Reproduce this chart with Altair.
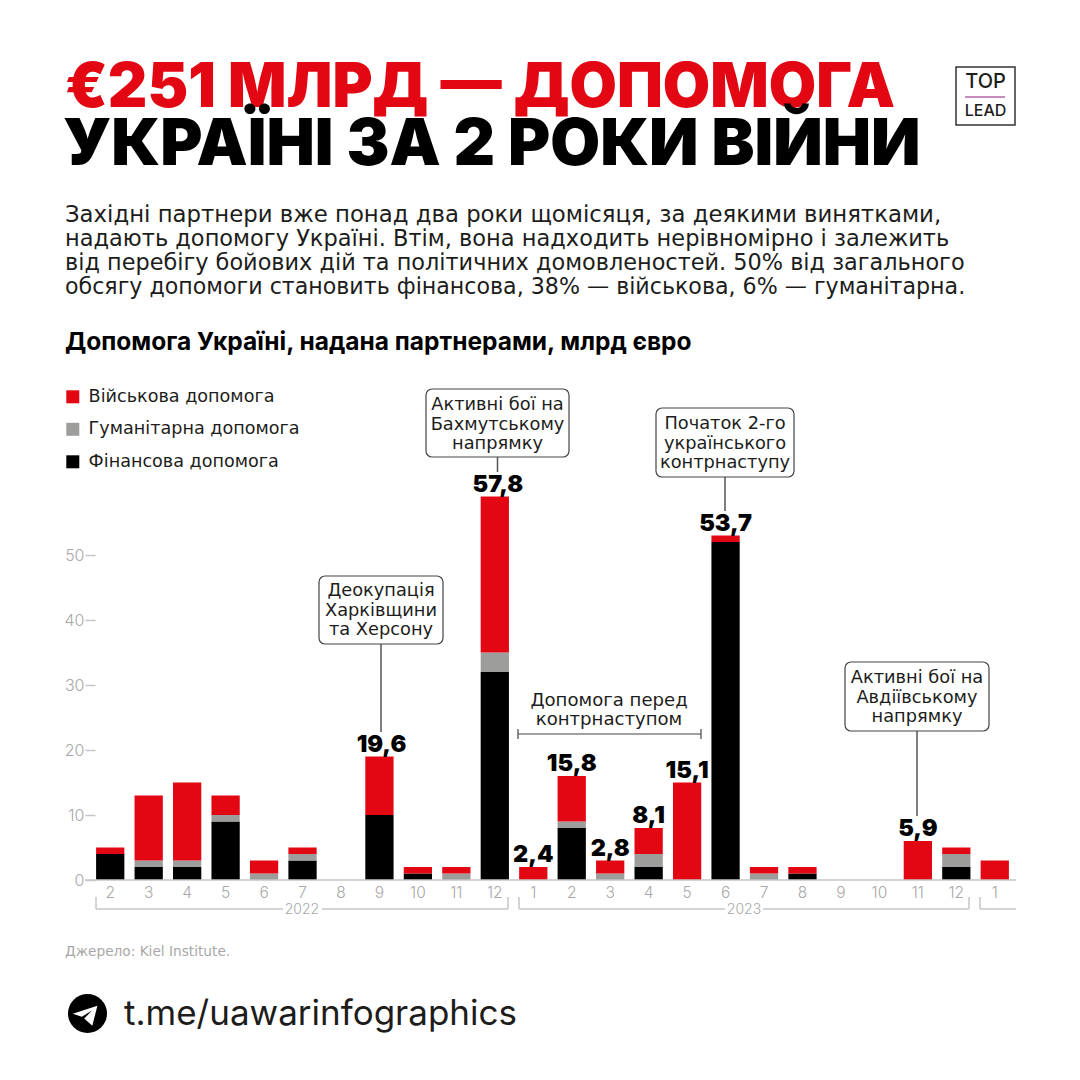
import altair as alt
import pandas as pd

MONTHS = ["2022-2","2022-3","2022-4","2022-5","2022-6","2022-7","2022-8","2022-9","2022-10","2022-11","2022-12",
          "2023-1","2023-2","2023-3","2023-4","2023-5","2023-6","2023-7","2023-8","2023-9","2023-10","2023-11","2023-12","2024-1"]
FIN = [4,2,2,9,0,3,0,10,1,0,32, 0,8,0,2,0,52,0,1,0,0,0,2,0]
HUM = [0,1,1,1,1,1,0,0,0,1,3, 0,1,1,2,0,0,1,0,0,0,0,2,0]
MIL = [1,10,12,3,2,1,0,9,1,1,24, 2,7,2,4,15,1,1,1,0,0,6,1,3]
SERIES = ["Військова допомога","Гуманітарна допомога","Фінансова допомога"]
COLORS = ["#E30613","#9D9D9C","#000000"]

LABEL_MONTHS = ["2022-9","2022-12","2023-1","2023-2","2023-3","2023-4","2023-5","2023-6","2023-11"]
LABEL_TEXTS = ["19,6","57,8","2,4","15,8","2,8","8,1","15,1","53,7","5,9"]

TITLE1 = "€251 МЛРД — ДОПОМОГА"
TITLE2 = "УКРАЇНІ ЗА 2 РОКИ ВІЙНИ"
BODY = ["Західні партнери вже понад два роки щомісяця, за деякими винятками,",
        "надають допомогу Україні. Втім, вона надходить нерівномірно і залежить",
        "від перебігу бойових дій та політичних домовленостей. 50% від загального",
        "обсягу допомоги становить фінансова, 38% — військова, 6% — гуманітарна."]
SUBTITLE = "Допомога Україні, надана партнерами, млрд євро"
SOURCE = "Джерело: Kiel Institute."
LINK = "t.me/uawarinfographics"

OX, OY = 91, 490
FONT = "Inter"
WIDE = "DejaVu Sans"
GREY = "#a8a8a8"
one = pd.DataFrame({"k":[0]})

def px(v): return alt.value(v-OX)
def py(v): return alt.value(v-OY)

def txt(s, x, y, size, weight=400, color="#1d1d1b", align="left", font=FONT):
    return alt.Chart(one).mark_text(text=s, fontSize=size, fontWeight=weight, color=color, align=align,
                                    baseline="alphabetic", font=font).encode(x=px(x), y=py(y))

def line(x1, y1, x2, y2, color="#c6c6c6", w=1.5):
    return alt.Chart(one).mark_rule(color=color, strokeWidth=w).encode(x=px(x1), x2=px(x2), y=py(y1), y2=py(y2))

def box(x1, y1, x2, y2):
    return alt.Chart(one).mark_rect(fill="white", stroke="#444444", strokeWidth=1.2, cornerRadius=6).encode(
        x=px(x1), x2=px(x2), y=py(y1), y2=py(y2))

rows = []
for i, m in enumerate(MONTHS):
    for o, (name, vals) in enumerate(zip([SERIES[2], SERIES[1], SERIES[0]], [FIN, HUM, MIL])):
        if vals[i]:
            rows.append({"month": m, "series": name, "value": vals[i], "ord": o})
df = pd.DataFrame(rows)
totals = [f+h+t for f, h, t in zip(FIN, HUM, MIL)]
lab = pd.DataFrame({"month": LABEL_MONTHS, "text": LABEL_TEXTS,
                    "total": [totals[MONTHS.index(m)] for m in LABEL_MONTHS]})

xscale = alt.Scale(domain=MONTHS, paddingInner=0.265, paddingOuter=0.1325)
yscale = alt.Scale(domain=[0, 60], nice=False)

bars = alt.Chart(df).mark_bar().encode(
    x=alt.X("month:N", scale=xscale, title=None, axis=alt.Axis(
        domain=False, ticks=False, labelAngle=0, labelExpr="split(datum.value,'-')[1]",
        labelColor=GREY, labelFont=FONT, labelFontSize=15.5, labelFontWeight=300, labelPadding=5)),
    y=alt.Y("value:Q", stack="zero", scale=yscale, title=None, axis=alt.Axis(
        values=[0,10,20,30,40,50], grid=False, domain=False, offset=-4, tickSize=10, tickColor="#c6c6c6",
        tickWidth=1.5, labelColor=GREY, labelFont=FONT, labelFontSize=16, labelFontWeight=300, labelPadding=1)),
    color=alt.Color("series:N", scale=alt.Scale(domain=SERIES, range=COLORS), legend=alt.Legend(
        title=None, orient="none", legendX=-27, legendY=-102, symbolType="square", symbolSize=169,
        symbolStrokeWidth=0, labelFont=WIDE, labelFontSize=17.6, labelColor="#1d1d1b", rowPadding=13.5,
        labelOffset=7, labelFontWeight=400, labelLimit=320)),
    order=alt.Order("ord:Q"),
)

baseline = alt.Chart(one).mark_rule(color="#c6c6c6", strokeWidth=1.5).encode(
    x=px(85), x2=px(1016), y=alt.Y(datum=0, scale=yscale))

label_layers = []
for m, t, tot in zip(lab["month"], lab["text"], lab["total"]):
    shift = {"2022-9": 2, "2022-12": 3}.get(m, 0)
    label_layers.append(alt.Chart(pd.DataFrame({"month": [m], "text": [t], "total": [tot]})).mark_text(
        fontSize=23.5, fontWeight=900, color="#000000", baseline="alphabetic", dy=-5, dx=shift, font=FONT).encode(
        x=alt.X("month:N", scale=xscale), y=alt.Y("total:Q", scale=yscale), text="text:N"))

leaders = [line(497.5, 457, 497.5, 472, "#555555"), line(381, 644, 381, 732, "#555555"),
           line(725, 477, 725, 511, "#555555"), line(917, 731, 917, 816, "#555555")]

notes = [
    (426, 389, 569, 457, ["Активні бої на", "Бахмутському", "напрямку"], 410),
    (319, 576, 443, 644, ["Деокупація", "Харківщини", "та Херсону"], 596),
    (656, 408, 794, 477, ["Початок 2-го", "українського", "контрнаступу"], 429),
    (845, 662, 989, 731, ["Активні бої на", "Авдіївському", "напрямку"], 683),
]
note_layers = []
for x1, y1, x2, y2, ls, b in notes:
    note_layers.append(box(x1, y1, x2, y2))
    for i, l in enumerate(ls):
        note_layers.append(txt(l, (x1+x2)/2, b+i*19.5, 17.8, align="center", font=WIDE))

body_sizes = [22.8, 22.5, 22.4, 22.15]

deco = [
    txt(TITLE1, 65, 107, 61.2, 900, "#E30613"),
    txt(TITLE2, 63, 165, 64.4, 900, "#000000"),
    *[txt(l, 65, 221.5+i*24, body_sizes[i], 400, font=WIDE) for i, l in enumerate(BODY)],
    txt(SUBTITLE, 65, 350, 24.5, 700, "#000000"),
    txt(SOURCE, 65, 956, 13.7, 400, GREY, font=WIDE),
    txt(LINK, 124, 1025, 35, 400),
    alt.Chart(one).mark_circle(size=1520, color="#000000", opacity=1).encode(x=px(87.5), y=py(1013.5)),
    alt.Chart(one).mark_point(size=900, filled=True, color="white", opacity=1, strokeWidth=0,
        shape="M -0.98 0.02 L 0.66 -0.52 L 0.32 0.82 L -0.22 0.34 L 0.3 -0.2 L -0.38 0.22 Z").encode(x=px(87.5), y=py(1013.5)),
    alt.Chart(one).mark_rect(fill="white", stroke="#333333", strokeWidth=1.5).encode(x=px(956), x2=px(1015), y=py(67), y2=py(125)),
    txt("TOP", 985.5, 88, 20, 500, align="center"),
    line(965, 97, 1005, 97, "#B565A7", 1.5),
    txt("LEAD", 985.5, 116, 16, 500, align="center"),
    line(96, 897, 96, 909), line(96, 909, 283, 909), line(322, 909, 508, 909), line(508, 897, 508, 909),
    txt("2022", 302, 914, 14, 300, GREY, "center"),
    line(519, 897, 519, 909), line(519, 909, 725, 909), line(763, 909, 969, 909), line(969, 897, 969, 909),
    txt("2023", 744, 914, 14, 300, GREY, "center"),
    line(980, 897, 980, 909), line(980, 909, 1016, 909),
    txt("Допомога перед", 609, 706, 18.1, align="center", font=WIDE),
    txt("контрнаступом", 609, 725, 18.1, align="center", font=WIDE),
    line(518, 734, 701, 734, "#444444", 1.2), line(518, 729, 518, 739, "#444444", 1.2), line(701, 729, 701, 739, "#444444", 1.2),
]

chart = alt.layer(bars, baseline, *deco, *leaders, *note_layers, *label_layers).properties(
    width=923, height=390, padding={"left": 83, "top": 482, "right": 30, "bottom": 175},
    autosize=alt.AutoSizeParams(type="none"), background="white",
).configure_view(stroke=None)

chart.save("out.html", embed_options={"renderer": "svg", "actions": False})
